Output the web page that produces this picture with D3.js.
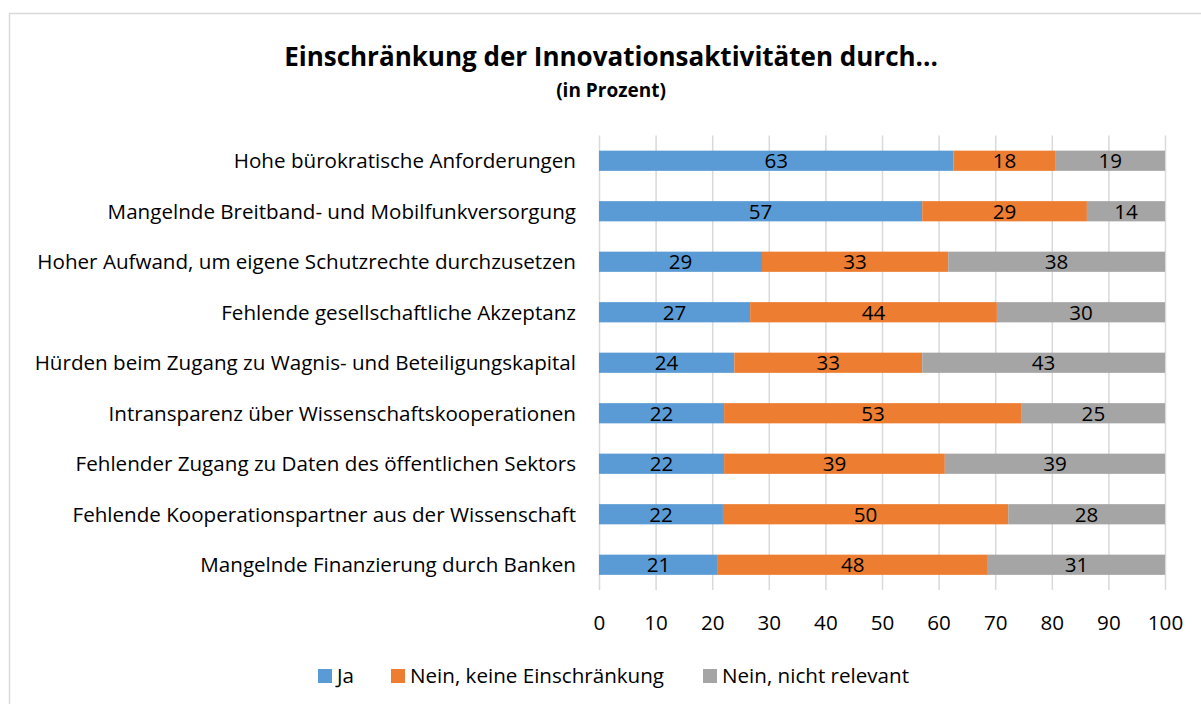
<!DOCTYPE html>
<html>
<head>
<meta charset="utf-8">
<script src="https://cdn.jsdelivr.net/npm/d3@7"></script>
<style>
  html, body { margin: 0; padding: 0; background: #fff; }
  svg { display: block; }
  text { font-family: "Open Sans", Lato, sans-serif; fill: #000; }
</style>
</head>
<body>
<svg id="chart" width="1201" height="704"></svg>
<script>
const categories = [
  "Hohe bürokratische Anforderungen",
  "Mangelnde Breitband- und Mobilfunkversorgung",
  "Hoher Aufwand, um eigene Schutzrechte durchzusetzen",
  "Fehlende gesellschaftliche Akzeptanz",
  "Hürden beim Zugang zu Wagnis- und Beteiligungskapital",
  "Intransparenz über Wissenschaftskooperationen",
  "Fehlender Zugang zu Daten des öffentlichen Sektors",
  "Fehlende Kooperationspartner aus der Wissenschaft",
  "Mangelnde Finanzierung durch Banken"
];
const seriesNames = ["Ja", "Nein, keine Einschränkung", "Nein, nicht relevant"];
const ja        = [62.6, 57.1, 28.8, 26.7, 23.9, 22.1, 22.1, 21.9, 21.0];
const neinKeine = [18.1, 29.1, 32.9, 43.6, 33.2, 52.6, 39.0, 50.4, 47.7];
const neinNicht = [19.3, 13.8, 38.3, 29.7, 42.9, 25.3, 38.9, 27.7, 31.3];
const xTicks = [0, 10, 20, 30, 40, 50, 60, 70, 80, 90, 100];
const colors = ["#5B9BD5", "#ED7D31", "#A5A5A5"];

const title = "Einschränkung der Innovationsaktivitäten durch...";
const subtitle = "(in Prozent)";

const FS = 20.6; // base text size

const svg = d3.select("#chart");

// outer frame
svg.append("rect").attr("x", 9.5).attr("y", 13.5).attr("width", 1200).attr("height", 700)
  .attr("fill", "#fff").attr("stroke", "#D9D9D9").attr("stroke-width", 1.5);

const margin = { left: 599, right: 36, top: 135.5, bottom: 114 };
const W = 1201, H = 704;

const x = d3.scaleLinear().domain([0, 100]).range([margin.left, W - margin.right]);
const y = d3.scaleBand().domain(categories).range([margin.top, H - margin.bottom]).paddingInner(0.6).paddingOuter(0.3);

// gridlines
svg.append("g").selectAll("line").data(xTicks).join("line")
  .attr("x1", d => x(d) + 0.5).attr("x2", d => x(d) + 0.5)
  .attr("y1", margin.top).attr("y2", H - margin.bottom)
  .attr("stroke", "#D9D9D9").attr("stroke-width", 1.5);

// stacked data
const rows = categories.map((c, i) => ({ cat: c, s0: ja[i], s1: neinKeine[i], s2: neinNicht[i] }));
const stack = d3.stack().keys(["s0", "s1", "s2"])(rows);

const layers = svg.append("g").selectAll("g").data(stack).join("g")
  .attr("fill", (d, i) => colors[i]);

layers.selectAll("rect").data(d => d).join("rect")
  .attr("x", d => x(d[0]))
  .attr("width", d => x(d[1]) - x(d[0]))
  .attr("y", d => y(d.data.cat))
  .attr("height", y.bandwidth());

// value labels
const fmt = d3.format(".0f");
const lbl = svg.append("g");
stack.forEach(layer => {
  lbl.selectAll(null).data(layer).join("text")
    .attr("x", d => (x(d[0]) + x(d[1])) / 2)
    .attr("y", d => y(d.data.cat) + y.bandwidth() / 2)
    .attr("dy", "0.36em")
    .attr("text-anchor", "middle")
    .style("font-size", FS + "px")
    .text(d => fmt(d[1] - d[0]));
});

// category axis
const yAxis = svg.append("g").attr("transform", `translate(${margin.left - 23},0)`)
  .call(d3.axisLeft(y).tickSize(0).tickPadding(0));
yAxis.select(".domain").remove();
yAxis.selectAll("text").style("font-size", FS + "px").attr("dy", "0.36em")
  .style("font-family", "\"Open Sans\", Lato, sans-serif").attr("fill", "#000");

// x axis
const xAxis = svg.append("g").attr("transform", `translate(0,${H - margin.bottom})`)
  .call(d3.axisBottom(x).tickValues(xTicks).tickSize(0).tickPadding(25).tickFormat(d3.format("d")));
xAxis.select(".domain").remove();
xAxis.selectAll("text").style("font-size", FS + "px")
  .style("font-family", "\"Open Sans\", Lato, sans-serif").attr("fill", "#000");

// title
svg.append("text").attr("x", 611).attr("y", 66).attr("text-anchor", "middle")
  .style("font-size", "26px").style("font-weight", "bold").text(title);
svg.append("text").attr("x", 611).attr("y", 97).attr("text-anchor", "middle")
  .style("font-size", "19px").style("font-weight", "bold").text(subtitle);

// legend
const legendX = [318, 391, 703];
const lg = svg.append("g").selectAll("g").data(seriesNames).join("g")
  .attr("transform", (d, i) => `translate(${legendX[i]},676)`);
lg.append("rect").attr("x", 0).attr("y", -7).attr("width", 14).attr("height", 14)
  .attr("fill", (d, i) => colors[i]);
lg.append("text").attr("x", 19).attr("y", 0).attr("dy", "0.36em")
  .style("font-size", FS + "px").text(d => d);
</script>
</body>
</html>
